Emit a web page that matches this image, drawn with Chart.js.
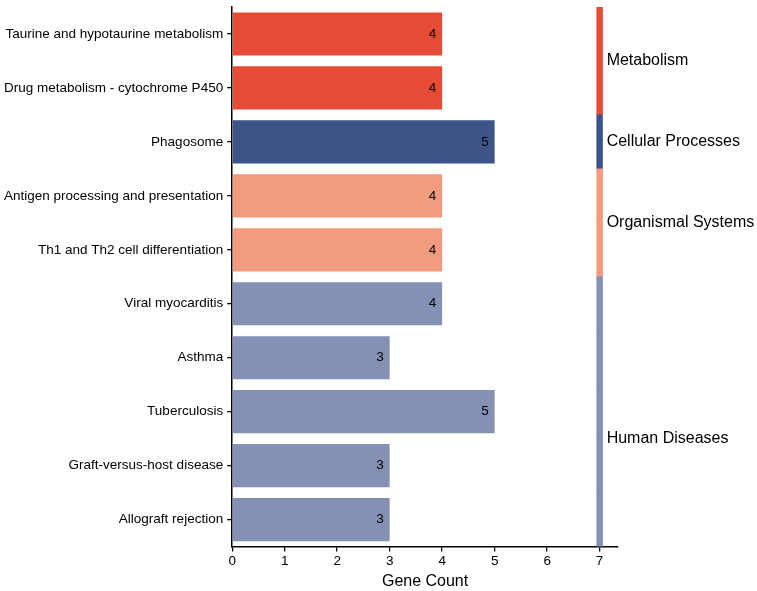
<!DOCTYPE html>
<html>
<head>
<meta charset="utf-8">
<script src="https://cdn.jsdelivr.net/npm/chart.js@4/dist/chart.umd.min.js"></script>
<style>
  html, body { margin: 0; padding: 0; background: #fff; }
  #wrap { width: 757px; height: 591px; }
</style>
</head>
<body>
<div id="wrap"><canvas id="kegg"></canvas></div>
<script>
'use strict';

const pathways = [
  'Taurine and hypotaurine metabolism',
  'Drug metabolism - cytochrome P450',
  'Phagosome',
  'Antigen processing and presentation',
  'Th1 and Th2 cell differentiation',
  'Viral myocarditis',
  'Asthma',
  'Tuberculosis',
  'Graft-versus-host disease',
  'Allograft rejection'
];
const geneCounts = [4, 4, 5, 4, 4, 4, 3, 5, 3, 3];
const pathwayGroup = [0, 0, 1, 2, 2, 3, 3, 3, 3, 3];
const groupNames = ['Metabolism', 'Cellular Processes', 'Organismal Systems', 'Human Diseases'];
const groupColors = ['#E64B35', '#3C5488', '#F39B7F', '#8491B4'];
// where each group label sits, in category rows
const groupLabelRow = [0.5, 2, 3.5, 7.5];
const xTicks = [0, 1, 2, 3, 4, 5, 6, 7];
const stripAt = 7;

const FONT = '"Liberation Sans", Arial, sans-serif';

const barColors = pathwayGroup.map(g => groupColors[g]);

const valueLabels = {
  id: 'valueLabels',
  afterDatasetsDraw(chart) {
    const { ctx, scales: { x, y } } = chart;
    ctx.save();
    ctx.font = '13.5px ' + FONT;
    ctx.fillStyle = '#000';
    ctx.textAlign = 'right';
    ctx.textBaseline = 'middle';
    geneCounts.forEach((v, i) => {
      ctx.fillText(String(v), x.getPixelForValue(v) - 6, y.getPixelForValue(i));
    });
    ctx.restore();
  }
};

const groupLabels = {
  id: 'groupLabels',
  afterDraw(chart) {
    const { ctx, scales: { x, y } } = chart;
    ctx.save();
    ctx.font = '16px ' + FONT;
    ctx.fillStyle = '#000';
    ctx.textAlign = 'left';
    ctx.textBaseline = 'middle';
    groupNames.forEach((name, g) => {
      ctx.fillText(name, x.getPixelForValue(stripAt) + 7, y.getPixelForValue(groupLabelRow[g]));
    });
    ctx.restore();
  }
};

new Chart(document.getElementById('kegg'), {
  type: 'bar',
  data: {
    labels: pathways,
    datasets: [
      {
        label: 'Gene Count',
        data: geneCounts,
        backgroundColor: barColors,
        borderWidth: 0,
        barPercentage: 0.8,
        categoryPercentage: 1,
        grouped: false,
        order: 1
      },
      {
        label: 'Class',
        data: pathways.map(() => [stripAt - 0.055, stripAt + 0.055]),
        backgroundColor: barColors,
        borderWidth: 0,
        barPercentage: 1,
        categoryPercentage: 1,
        grouped: false,
        order: 2
      }
    ]
  },
  options: {
    indexAxis: 'y',
    responsive: true,
    maintainAspectRatio: false,
    animation: false,
    layout: { padding: { left: 0, right: 139, top: 7, bottom: 0 } },
    plugins: {
      legend: { display: false },
      tooltip: { enabled: false }
    },
    scales: {
      x: {
        type: 'linear',
        min: 0,
        max: 7.35,
        afterBuildTicks: axis => { axis.ticks = xTicks.map(v => ({ value: v })); },
        ticks: { color: '#000', font: { family: FONT, size: 13.5 }, padding: 2 },
        grid: { drawOnChartArea: false, drawTicks: true, tickLength: 5, color: '#000', lineWidth: 1.3 },
        border: { display: true, color: '#000', width: 1.5 },
        title: { display: true, text: 'Gene Count', color: '#000', font: { family: FONT, size: 16 }, padding: { top: 0, bottom: 0 } }
      },
      y: {
        afterFit: axis => { axis.paddingTop = 0; axis.paddingBottom = 0; },
        ticks: { color: '#000', font: { family: FONT, size: 13.5 }, padding: 4 },
        grid: { drawOnChartArea: false, drawTicks: true, tickLength: 5, color: '#000', lineWidth: 1.3, offset: false },
        border: { display: true, color: '#000', width: 1.5 }
      }
    }
  },
  plugins: [valueLabels, groupLabels]
});
</script>
</body>
</html>
